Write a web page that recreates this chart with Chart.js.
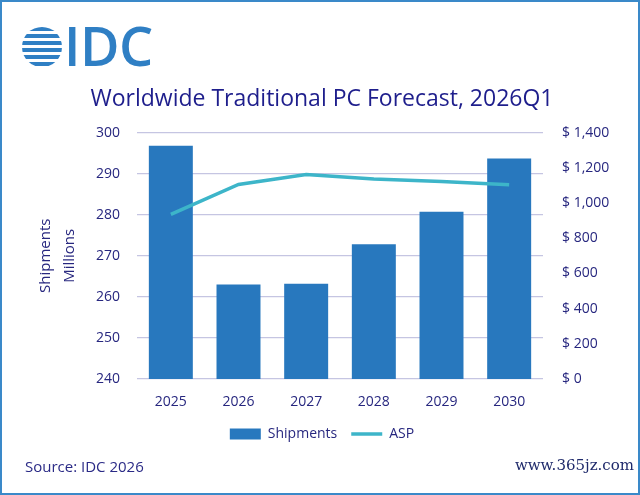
<!DOCTYPE html>
<html>
<head>
<meta charset="utf-8">
<script src="https://cdn.jsdelivr.net/npm/chart.js@4.4.1/dist/chart.umd.min.js"></script>
<style>
  body { margin: 0; background: #fff; }
  #wrap { position: relative; width: 640px; height: 495px; overflow: hidden; font-family: "Open Sans", sans-serif; }
  #frame { position: absolute; left: 0; top: 0; width: 636px; height: 491px; border: 2px solid #3a89c9; pointer-events: none; }
  #globe { position: absolute; left: 22px; top: 27px; width: 40px; height: 40px; border-radius: 50%;
    background: repeating-linear-gradient(180deg, #2f7fc4 0px, #2f7fc4 4.5px, #fff 4.5px, #fff 7px); }
  #idc { position: absolute; left: 64px; top: 8px; font-size: 54px; font-weight: 600; color: #2f7fc4; letter-spacing: -0.5px; }
  #source { position: absolute; left: 25px; top: 456px; font-size: 15px; color: #2a2a86; }
  #wm { position: absolute; right: 6px; top: 456px; font-family: "DejaVu Serif", serif; font-size: 15px; color: #1f2a6b; }
</style>
</head>
<body>
<div id="wrap">
  <canvas id="pcChart" width="640" height="495"></canvas>
  <div id="globe"></div>
  <div id="idc">IDC</div>
  <div id="source">Source: IDC 2026</div>
  <div id="wm">www.365jz.com</div>
  <div id="frame"></div>
</div>
<script>
// values
var years = ['2025', '2026', '2027', '2028', '2029', '2030'];
var shipments = [296.8, 263.0, 263.2, 272.8, 280.7, 293.7];   // millions
var asp = [935, 1105, 1162, 1137, 1122, 1103];               // US$

var navy = '#27277f';
var barColor = '#2878be';
var lineColor = '#3db5c9';

var ctx = document.getElementById('pcChart').getContext('2d');

var pcChart = new Chart(ctx, {
    type: 'bar',
    data: {
        labels: years,
        datasets: [
            {
                label: 'Shipments',
                data: shipments,
                backgroundColor: barColor,
                yAxisID: 'y',
                categoryPercentage: 0.65,
                barPercentage: 1,
                order: 2
            },
            {
                type: 'line',
                label: 'ASP',
                data: asp,
                borderColor: lineColor,
                borderWidth: 3.5,
                pointRadius: 0,
                tension: 0,
                yAxisID: 'y1',
                order: 1
            }
        ]
    },
    options: {
        responsive: false,
        animation: false,
        layout: { padding: { left: 30, right: 26, top: 0, bottom: 44 } },
        plugins: {
            tooltip: { enabled: false },
            title: {
                display: true,
                text: 'Worldwide Traditional PC Forecast, 2026Q1',
                color: '#1e1e8c',
                font: { family: 'Open Sans', size: 23, weight: 'normal' },
                padding: { top: 86, bottom: 19 }
            },
            legend: {
                position: 'bottom',
                labels: {
                    color: navy,
                    font: { family: 'Open Sans', size: 14 },
                    usePointStyle: true,
                    pointStyleWidth: 31,
                    boxHeight: 11,
                    padding: 14,
                    generateLabels: function (chart) {
                        return [
                            { text: 'Shipments', fillStyle: barColor, strokeStyle: barColor, lineWidth: 0, pointStyle: 'rect', fontColor: navy, datasetIndex: 0 },
                            { text: 'ASP', fillStyle: lineColor, strokeStyle: lineColor, lineWidth: 3.5, pointStyle: 'line', fontColor: navy, datasetIndex: 1 }
                        ];
                    }
                }
            }
        },
        scales: {
            x: {
                grid: { display: false },
                border: { display: false },
                ticks: { color: navy, font: { family: 'Open Sans', size: 14 }, padding: 7 },
                afterFit: function (scale) { scale.height = 34; }
            },
            y: {
                position: 'left',
                min: 240,
                max: 300,
                ticks: { stepSize: 10, color: navy, font: { family: 'Open Sans', size: 14 }, padding: 17 },
                grid: { color: '#c5c5e2', lineWidth: 1.2, drawTicks: false },
                border: { display: false },
                title: {
                    display: true,
                    text: ['Shipments', 'Millions'],
                    color: navy,
                    font: { family: 'Open Sans', size: 15, lineHeight: 1.65 },
                    padding: { top: 3, bottom: 0 }
                },
                afterFit: function (scale) { scale.width = 107; }
            },
            y1: {
                position: 'right',
                min: 0,
                max: 1400,
                ticks: {
                    stepSize: 200,
                    color: navy,
                    font: { family: 'Open Sans', size: 14 },
                    padding: 19,
                    callback: function (v) { return '$ ' + v.toLocaleString('en-US'); }
                },
                grid: { display: false, drawTicks: false },
                border: { display: false },
                afterFit: function (scale) { scale.width = 71; }
            }
        }
    }
});
</script>
</body>
</html>
